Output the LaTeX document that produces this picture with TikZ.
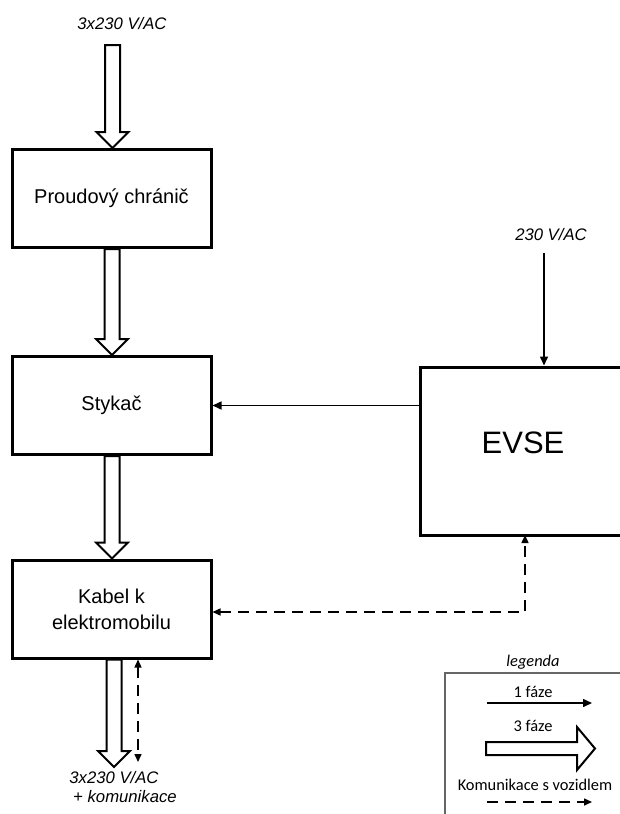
\documentclass[tikz,border=0pt]{standalone}
\usepackage{fontspec}
\setmainfont{Liberation Sans}
\newfontfamily\legendfont{Carlito}
\usetikzlibrary{arrows.meta,calc}

\begin{document}
\begin{tikzpicture}[x=1pt,y=-1pt,
  block/.style={draw, line width=3pt, minimum width=199pt, minimum height=98pt,
    align=center, font=\fontsize{20}{26}\selectfont, inner sep=0pt},
  supply/.style={font=\fontsize{16.7}{19}\selectfont\itshape, inner sep=0pt},
  legtext/.style={font=\legendfont\fontsize{16.4}{19}\selectfont, inner sep=0pt},
  thin/.style={line width=1.5pt, -{Triangle[length=9pt,width=8pt]}},
  comm/.style={line width=1.5pt, dash pattern=on 11pt off 7pt,
    {Triangle[length=8pt,width=7pt]}-{Triangle[length=8pt,width=7pt]}},
  fat/.style={line width=2pt, fill=white, miter limit=10,
    to path={let \p1=(\tikztostart), \p2=(\tikztotarget) in
      (\x1-7.5pt,\y1) -- (\x1-7.5pt,\y2+16pt) -- (\x1-16pt,\y2+16pt) -- (\x1,\y2)
      -- (\x1+16pt,\y2+16pt) -- (\x1+7.5pt,\y2+16pt) -- (\x1+7.5pt,\y1) -- cycle}}
]
\useasboundingbox (0,0) rectangle (620,814);
\clip (0,0) rectangle (620,814);

% main chain of blocks
\node[block] (rcd) at (111.5,198.5) {Proudový chránič};
\node[block] (contactor) at (111.5,405.5) {Stykač};
\node[block] (cable) at (111.5,609) {Kabel k\\elektromobilu};
\node[draw, line width=3pt, minimum width=210pt, minimum height=168pt, inner sep=0pt,
  font=\fontsize{31}{36}\selectfont] (evse) at (525,451) {};
\node (evselabel) at (523,443) {\fontsize{31}{36}\selectfont EVSE};

% three-phase supply
\node[supply] (supplyTop) at (122,24) {3x230 V/AC};
\coordinate (inTop) at (112.5,45);
\draw[fat] (inTop) to (rcd.north);
\draw[fat] ($(rcd.south)+(0.5,0)$) to (contactor.north);
\draw[fat] ($(contactor.south)+(0.5,0)$) to (cable.north);

% output to the vehicle
\coordinate (outTip) at (114,767);
\draw[fat] ($(cable.south)+(2.5,0)$) to (outTip);
\coordinate (commTop) at ($(cable.south)+(26.5,0)$);
\coordinate (commBot) at (138,762);
\draw[comm] (commTop) -- (commBot);
\node[supply] (outA) at (114,778) {3x230 V/AC};
\node[supply] (outB) at (125,797) {+ komunikace};

% single-phase supply of the EVSE
\node[supply] (supplyEvse) at (551,235) {230 V/AC};
\coordinate (evseIn) at (544,253);
\draw[thin] (evseIn) -- (evseIn |- evse.north);

% control of the contactor
\draw[thin] (contactor.east -| evse.west) -- (contactor.east);

% communication with the vehicle
\coordinate (evseComm) at (525,535);
\draw[comm] ($(cable.east)+(0,3)$) -| (evseComm);

% legend
\node[font=\legendfont\fontsize{16.4}{19}\selectfont\itshape, inner sep=0pt] (legTitle) at (533,662) {legenda};
\draw[gray!80!black, line width=1.5pt] (445,830) |- (640,673);
\node[legtext] (leg1) at (533,692) {1 fáze};
\coordinate (l1a) at (487,703);
\coordinate (l1b) at (592,703);
\draw[thin] (l1a) -- (l1b);
\node[legtext] (leg3) at (533,726) {3 fáze};
\coordinate (l3) at (486,748.5);
\draw[line width=2pt, fill=white, miter limit=10]
  ($(l3)+(0,-6.5)$) -- ++(91,0) -- ++(0,-15) -- ++(18,21.5) -- ++(-18,21.5)
  -- ++(0,-15) -- ++(-91,0) -- cycle;
\node[legtext] (legC) at (535,785) {Komunikace s vozidlem};
\coordinate (lca) at (487,802);
\coordinate (lcb) at (592,802);
\draw[line width=1.5pt, dash pattern=on 11pt off 7pt, -{Triangle[length=8pt,width=7pt]}] (lca) -- (lcb);
\end{tikzpicture}
\end{document}
